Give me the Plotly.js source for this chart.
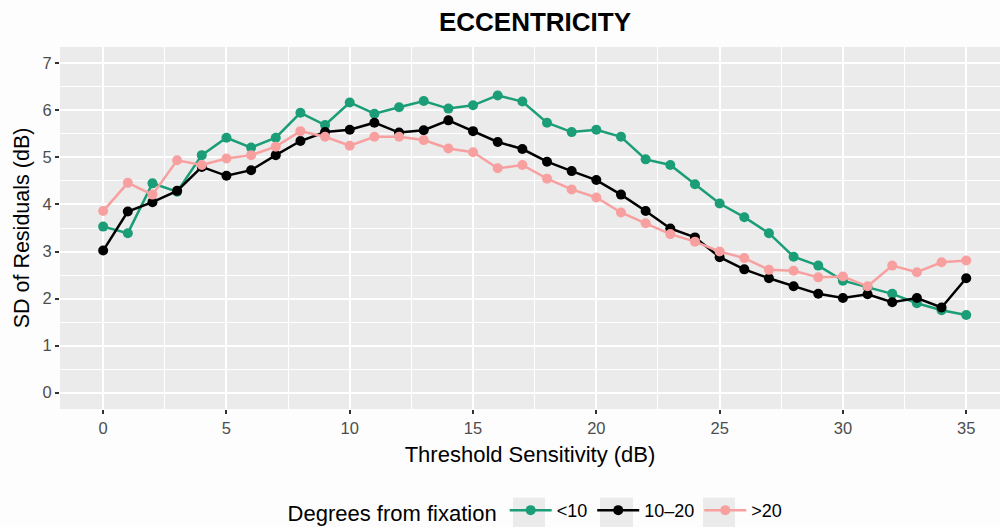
<!DOCTYPE html>
<html>
<head>
<meta charset="utf-8">
<script src="https://cdn.plot.ly/plotly-3.0.1.min.js"></script>
<style>
html,body{margin:0;padding:0;background:#fdfdfe;}
#chart{width:1000px;height:527px;}
</style>
</head>
<body>
<div id="chart"></div>
<script>
const sensitivity = [0,1,2,3,4,5,6,7,8,9,10,11,12,13,14,15,16,17,18,19,20,21,22,23,24,25,26,27,28,29,30,31,32,33,34,35];
const sdLt10 = [3.53,3.39,4.45,4.27,5.05,5.42,5.21,5.42,5.95,5.69,6.17,5.93,6.07,6.20,6.04,6.11,6.32,6.19,5.74,5.54,5.59,5.44,4.96,4.84,4.43,4.02,3.73,3.39,2.89,2.70,2.38,2.24,2.10,1.90,1.75,1.65];
const sd10to20 = [3.02,3.85,4.05,4.29,4.80,4.61,4.73,5.05,5.35,5.54,5.59,5.74,5.53,5.58,5.79,5.56,5.33,5.18,4.91,4.71,4.52,4.21,3.86,3.49,3.30,2.88,2.62,2.43,2.26,2.10,2.01,2.09,1.92,2.01,1.81,2.43];
const sdGt20 = [3.86,4.46,4.21,4.94,4.84,4.98,5.05,5.23,5.56,5.44,5.25,5.44,5.44,5.37,5.19,5.11,4.77,4.84,4.55,4.32,4.15,3.83,3.60,3.37,3.21,3.00,2.86,2.61,2.59,2.45,2.47,2.26,2.70,2.56,2.77,2.81];
const seriesNames = ["<10", "10\u201320", ">20"];
const seriesColors = ["#1b9e77", "#000000", "#f8a0a0"];

const FONT = "Liberation Sans, Arial, Helvetica, sans-serif";
const allSeries = [sdLt10, sd10to20, sdGt20];
const traces = allSeries.map((vals, i) => ({
  x: sensitivity,
  y: vals,
  name: seriesNames[i],
  type: "scatter",
  mode: "lines+markers",
  line: {color: seriesColors[i], width: 2.5},
  marker: {color: seriesColors[i], size: 10}
}));

// grey key backgrounds of the legend (paper coordinates)
const keyBoxes = [[0.4819, 0.5160], [0.5745, 0.6096], [0.6840, 0.7181]].map(([x0, x1]) => ({
  type: "rect", xref: "paper", yref: "paper", x0: x0, x1: x1, y0: -0.335, y1: -0.245,
  fillcolor: "#ebebeb", line: {width: 0}, layer: "below"
}));

const layout = {
  width: 1000, height: 527,
  paper_bgcolor: "#fdfdfe",
  plot_bgcolor: "#ebebeb",
  margin: {l: 60, r: 0, t: 46.5, b: 117.5, autoexpand: false},
  title: {text: "<b>ECCENTRICITY</b>", x: 0.535, xanchor: "center", y: 0.958, yanchor: "middle",
          font: {family: FONT, size: 26, color: "#000"}},
  xaxis: {
    range: [-1.75, 36.37], tickvals: [0,5,10,15,20,25,30,35],
    showgrid: true, gridcolor: "#ffffff", gridwidth: 1.6, zeroline: false,
    ticks: "outside", ticklen: 4, tickwidth: 1.5, tickcolor: "#333333",
    tickfont: {family: FONT, size: 16.5, color: "#4d4d4d"},
    minor: {dtick: 2.5, tick0: 0, showgrid: true, gridcolor: "#ffffff", gridwidth: 0.8},
    title: {text: "Threshold Sensitivity (dB)", font: {family: FONT, size: 22, color: "#000"}, standoff: 10}
  },
  yaxis: {
    range: [-0.35, 7.35], tickvals: [0,1,2,3,4,5,6,7],
    showgrid: true, gridcolor: "#ffffff", gridwidth: 1.6, zeroline: false,
    ticks: "outside", ticklen: 4, tickwidth: 1.5, tickcolor: "#333333",
    tickfont: {family: FONT, size: 16.5, color: "#4d4d4d"},
    minor: {dtick: 0.5, tick0: 0, showgrid: true, gridcolor: "#ffffff", gridwidth: 0.8},
    title: {text: "SD of Residuals (dB)", font: {family: FONT, size: 21.5, color: "#000"}, standoff: 6}
  },
  shapes: keyBoxes,
  showlegend: true,
  legend: {
    orientation: "h", x: 0.507, xanchor: "center", y: -0.283, yanchor: "middle",
    title: {text: "Degrees from fixation", font: {family: FONT, size: 22, color: "#000"}, side: "left"},
    font: {family: FONT, size: 18, color: "#000"},
    bgcolor: "rgba(0,0,0,0)", itemwidth: 42
  }
};

Plotly.newPlot("chart", traces, layout, {displayModeBar: false});
</script>
</body>
</html>
